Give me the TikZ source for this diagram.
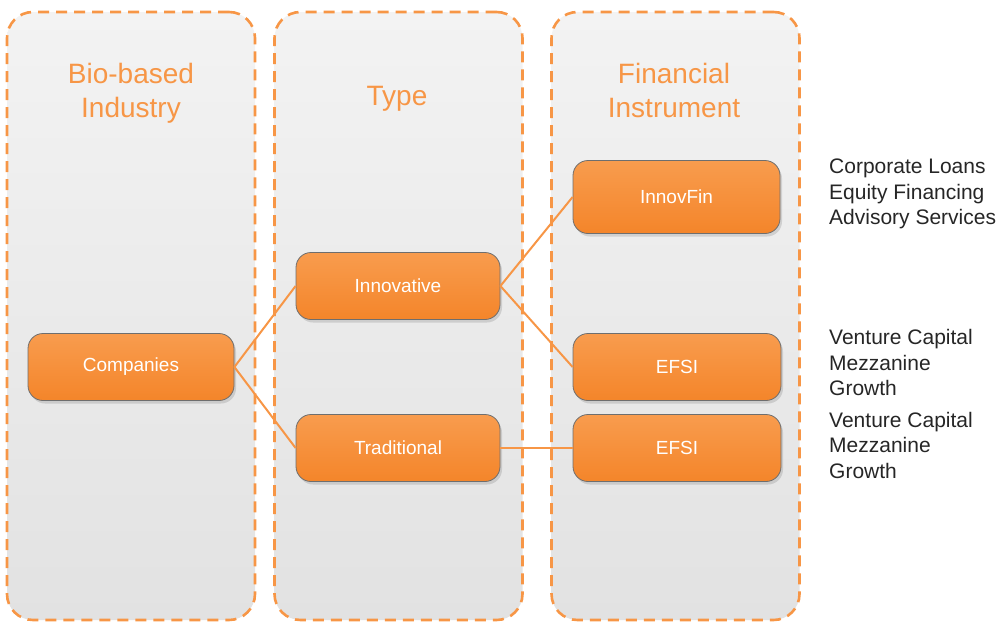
\documentclass[tikz,border=0pt]{standalone}
\usepackage{fontspec}
\setmainfont{Liberation Sans}
\usetikzlibrary{shadows}
\definecolor{dashor}{HTML}{F79646}
\definecolor{coltop}{HTML}{F3F3F3}
\definecolor{colbot}{HTML}{E2E2E2}
\definecolor{boxtop}{HTML}{F89C4E}
\definecolor{boxbot}{HTML}{F4852A}
\definecolor{boxline}{HTML}{6E6E6E}
\definecolor{txtdark}{HTML}{262626}
\tikzset{
  column/.style={draw=dashor, line width=2.6pt, dash pattern=on 11pt off 7pt,
    rounded corners=26pt, top color=coltop, bottom color=colbot,
    minimum width=248pt, minimum height=608pt, inner sep=0pt},
  header/.style={text=dashor, font=\fontsize{28}{34}\selectfont, align=center},
  item/.style={draw=boxline, line width=0.8pt, rounded corners=15pt,
    top color=boxtop, bottom color=boxbot, text=white,
    font=\fontsize{19}{23}\selectfont, inner sep=0pt,
    drop shadow={shadow xshift=2pt, shadow yshift=-3pt, fill=black, opacity=0.12}},
  link/.style={draw=dashor, line width=2pt},
  note/.style={text=txtdark, font=\fontsize{21}{25.5}\selectfont, align=left, anchor=west, inner sep=0pt}
}
\begin{document}
\begin{tikzpicture}[x=1pt,y=-1pt]
\useasboundingbox (0,0) rectangle (1001,621);
% columns
\node[column] (c1) at (131,316) {};
\node[column] (c2) at (398.5,316) {};
\node[column] (c3) at (675.5,316) {};
% headers
\node[header] (h1) at (131,93) {Bio-based\\Industry};
\node[header] (h2) at (397,99) {Type};
\node[header] (h3) at (674,90) {Financial\\Instrument};
% items
\node[item, minimum width=206pt, minimum height=67pt] (comp) at (131,367) {Companies};
\node[item, minimum width=204pt, minimum height=67pt] (inno) at (398,286) {Innovative};
\node[item, minimum width=204pt, minimum height=67pt] (trad) at (398,448) {Traditional};
\node[item, minimum width=207pt, minimum height=73pt] (fin) at (676.5,197) {InnovFin};
\node[item, minimum width=208pt, minimum height=67pt] (efsi1) at (677,367) {EFSI};
\node[item, minimum width=208pt, minimum height=67pt] (efsi2) at (677,448) {EFSI};
% links
\draw[link] (comp.east) -- (inno.west);
\draw[link] (comp.east) -- (trad.west);
\draw[link] (inno.east) -- (fin.west);
\draw[link] (inno.east) -- (efsi1.west);
\draw[link] (trad.east) -- (efsi2.west);
% notes
\node[note] (n1) at (829,194) {Corporate Loans\\Equity Financing\\Advisory Services};
\node[note] (n2) at (829,362.5) {Venture Capital\\Mezzanine\\Growth};
\node[note] (n3) at (829,445) {Venture Capital\\Mezzanine\\Growth};
\end{tikzpicture}
\end{document}
